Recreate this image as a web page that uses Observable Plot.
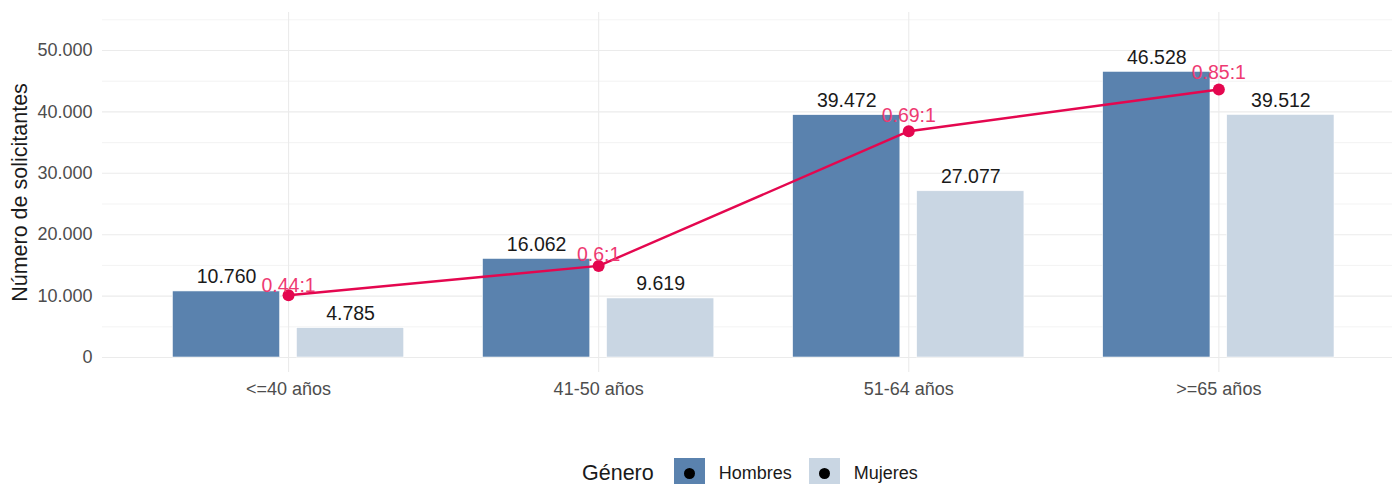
<!DOCTYPE html>
<html>
<head>
<meta charset="utf-8">
<script src="https://cdn.jsdelivr.net/npm/d3@7"></script>
<script src="https://cdn.jsdelivr.net/npm/@observablehq/plot@0.6"></script>
<style>
  body { margin: 0; background: #fff; font-family: "Liberation Sans", Arial, sans-serif; }
  #legend { display: flex; align-items: center; justify-content: flex-start; height: 34px; padding-top: 8px; padding-left: 582px; }
  #legend .title { font-size: 21.5px; color: #1a1a1a; margin-right: 20px; }
  #legend .key { width: 31px; height: 31px; position: relative; margin-right: 14px; }
  #legend .key::after { content: ""; position: absolute; left: 10px; top: 10px; width: 11px; height: 11px; border-radius: 50%; background: #000; }
  #legend .lab { font-size: 18px; color: #1a1a1a; margin-right: 17px; }
</style>
</head>
<body>
<div id="chart"></div>
<script>
const categories = ["<=40 años", "41-50 años", "51-64 años", ">=65 años"];
const generos = ["Hombres", "Mujeres"];
const hombres = [10760, 16062, 39472, 46528];
const mujeres = [4785, 9619, 27077, 39512];
const ratioLabels = ["0.44:1", "0.6:1", "0.69:1", "0.85:1"];
const lineValues = [10150, 14920, 36860, 43650];
const ratioLabelY = [10590, 15680, 38370, 45280];
const yTicks = [0, 10000, 20000, 30000, 40000, 50000];
const yMinorTicks = [5000, 15000, 25000, 35000, 45000, 55000];
const colors = ["#5a82ae", "#c9d6e3"];

const fmt = d3.formatLocale({decimal: ",", thousands: ".", grouping: [3], currency: ["", "€"]}).format(",");

const idx = categories.map((_, i) => i);
const dodge = {Hombres: -0.2, Mujeres: 0.2};
const half = 0.173;
const bars = [];
categories.forEach((c, i) => {
  bars.push({i, genero: "Hombres", value: hombres[i]});
  bars.push({i, genero: "Mujeres", value: mujeres[i]});
});

const plot = Plot.plot({
  width: 1392,
  height: 448,
  marginLeft: 102,
  marginRight: 0,
  marginTop: 12,
  marginBottom: 76,
  style: {fontFamily: "'Liberation Sans', Arial, sans-serif", background: "#fff"},
  x: {type: "linear", domain: [-0.6, 3.56], axis: null},
  y: {domain: [-2440, 56190], axis: null},
  color: {domain: generos, range: colors},
  marks: [
    Plot.ruleY(yMinorTicks, {stroke: "#ebebeb", strokeWidth: 0.6}),
    Plot.ruleY(yTicks, {stroke: "#ebebeb", strokeWidth: 1.1}),
    Plot.ruleX(idx, {stroke: "#ebebeb", strokeWidth: 1.1}),
    Plot.rectY(bars, {
      x1: d => d.i + dodge[d.genero] - half,
      x2: d => d.i + dodge[d.genero] + half,
      y1: 0, y2: "value", fill: "genero", stroke: "white", strokeWidth: 0.6
    }),
    Plot.text(bars, {
      x: d => d.i + dodge[d.genero], y: "value", text: d => fmt(d.value),
      lineAnchor: "bottom", dy: -8, fontSize: 19.5, fill: "#1a1a1a"
    }),
    Plot.line(idx, {x: i => i, y: i => lineValues[i], stroke: "#e4074f", strokeWidth: 2.4}),
    Plot.dot(idx, {x: i => i, y: i => lineValues[i], r: 6, fill: "#e4074f"}),
    Plot.text(idx, {
      x: i => i, y: i => ratioLabelY[i], text: i => ratioLabels[i],
      lineAnchor: "bottom", fontSize: 19.5, fill: "#ee3a72"
    }),
    Plot.axisX({ticks: idx, tickFormat: i => categories[i], tickSize: 0, tickPadding: 10, fontSize: 18, color: "#4d4d4d", label: null}),
    Plot.axisY({ticks: yTicks, tickFormat: fmt, tickSize: 0, tickPadding: 10, fontSize: 18, color: "#4d4d4d", label: null}),
    Plot.text(["Número de solicitantes"], {
      frameAnchor: "left", textAnchor: "middle", rotate: -90, dx: -82, fontSize: 21.5, fill: "#1a1a1a", lineAnchor: "middle"
    })
  ]
});
document.getElementById("chart").appendChild(plot);

const legend = document.createElement("div");
legend.id = "legend";
const t = document.createElement("span");
t.className = "title"; t.textContent = "Género";
legend.appendChild(t);
generos.forEach((g, k) => {
  const key = document.createElement("span");
  key.className = "key"; key.style.background = colors[k];
  const lab = document.createElement("span");
  lab.className = "lab"; lab.textContent = g;
  legend.appendChild(key); legend.appendChild(lab);
});
document.body.appendChild(legend);
</script>
</body>
</html>
